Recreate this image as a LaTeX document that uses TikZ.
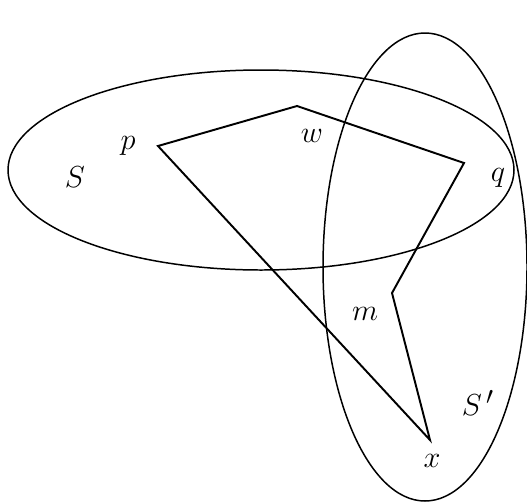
\documentclass[tikz,border=0pt]{standalone}
\usepackage{amsfonts,amsmath,amssymb}
\usepackage{tikz}
\usetikzlibrary{arrows.meta}

\begin{document}
\begin{tikzpicture}[line width=1.1pt,every node/.style={font=\fontsize{19}{23}\selectfont}]
\useasboundingbox(0,0)rectangle(10.54,10.06);
\draw[line width=0.85pt](5.22,6.66)ellipse[x radius=5.06cm,y radius=2cm]
(8.5,4.72)ellipse[x radius=2.04cm,y radius=4.68cm];
\coordinate(p)at(3.16,7.14);
\coordinate(w)at(5.94,7.94);
\coordinate(q)at(9.28,6.8);
\coordinate(m)at(7.84,4.2);
\coordinate(x)at(8.6,1.26);
\node(lp)at(2.56,7.14){$p$};
\node(lw)at(6.24,7.34){$w$};
\node(lq)at(9.96,6.5){$q$};
\node(lS)at(1.5,6.52){$S$};
\node(lm)at(7.3,3.78){$m$};
\node(lSp)at(9.56,2.0){$S^{\,\prime}$};
\node(lx)at(8.64,0.84){$x$};
\draw(p)--(w)--(q)--(m)--(x)--cycle;
\end{tikzpicture}
\end{document}
